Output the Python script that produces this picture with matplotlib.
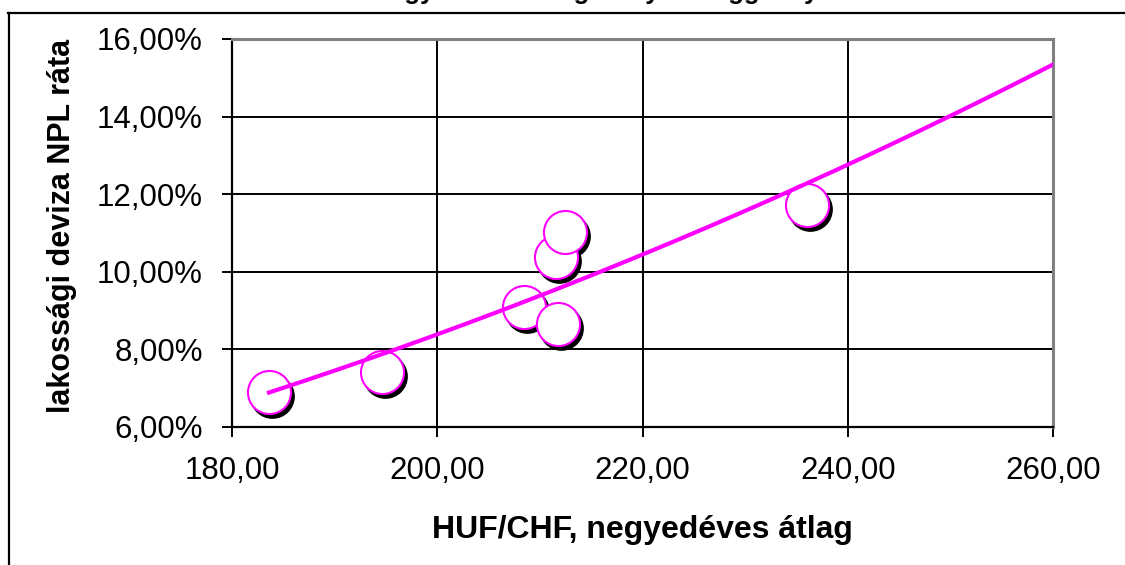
import numpy as np
import matplotlib
matplotlib.use("Agg")
import matplotlib.pyplot as plt
from matplotlib.lines import Line2D
from matplotlib.ticker import FuncFormatter
import matplotlib.transforms as mtransforms

plt.rcParams['font.family'] = ['Liberation Sans', 'DejaVu Sans']

# Data
huf_chf = [183.6, 194.6, 208.5, 211.8, 211.6, 212.4, 236.0]
npl_rate = [6.91, 7.43, 9.09, 8.65, 10.37, 11.03, 11.72]  # percent
x_ticks = [180, 200, 220, 240, 260]
y_ticks = [6, 8, 10, 12, 14, 16]
title_text = "NPL ráta a negyedéves átlagárfolyam függvényében"
x_label = "HUF/CHF, negyedéves átlag"
y_label = "lakossági deviza NPL ráta"

W, H = 1125, 565
fig = plt.figure(figsize=(W / 100, H / 100), dpi=100)
ax = fig.add_axes([232 / W, 1 - 427 / H, (1053 - 232) / W, (427 - 39) / H])

x = np.array(huf_chf)
y = np.array(npl_rate)

# Power trendline (Excel-style), forecast forward to 260
b, lna = np.polyfit(np.log(x), np.log(y), 1)
xt = np.linspace(x.min(), 260, 200)
yt = np.exp(lna) * xt ** b

# Shadows
shadow_tr = mtransforms.offset_copy(ax.transData, fig=fig, x=3, y=-4, units='dots')
ax.plot(x, y, linestyle='none', marker='o', markersize=31, markerfacecolor='black',
        markeredgecolor='black', markeredgewidth=1.2, transform=shadow_tr, zorder=3,
        clip_on=False)
ax.plot(x, y, linestyle='none', marker='o', markersize=31, markerfacecolor='white',
        markeredgecolor='#FF00FF', markeredgewidth=1.5, zorder=4, clip_on=False)
ax.plot(xt, yt, color='#FF00FF', linewidth=3, zorder=5)

ax.set_xlim(180, 260)
ax.set_ylim(6, 16)
ax.set_xticks(x_ticks)
ax.set_yticks(y_ticks)
ax.xaxis.set_major_formatter(FuncFormatter(lambda v, p: f"{v:.2f}".replace('.', ',')))
ax.yaxis.set_major_formatter(FuncFormatter(lambda v, p: f"{v:.2f}%".replace('.', ',')))
ax.tick_params(axis='both', direction='out', length=7.5, width=1.4, color='black',
               labelsize=22.5, pad=13.5)
ax.grid(True, color='black', linewidth=1.4, zorder=1)
ax.set_axisbelow(True)

for s in ['left', 'bottom']:
    ax.spines[s].set_color('black')
    ax.spines[s].set_linewidth(1.6)
for s in ['top', 'right']:
    ax.spines[s].set_color('#808080')
    ax.spines[s].set_linewidth(2.2)

fig.text(642 / W, 1 - 530 / H, x_label, ha='center', va='center',
         fontsize=23, fontweight='bold')
fig.text(62 / W, 1 - 226 / H, y_label, ha='center', va='center', rotation=90,
         fontsize=22, fontweight='bold')

# Clipped title at very top
fig.text(240 / W, 1 + 1 / H, title_text, ha='left', va='baseline',
         fontsize=18.5, fontweight='bold')

# Outer chart frame (partially visible)
fig.add_artist(Line2D([8 / W, 1.01], [1 - 12.5 / H, 1 - 12.5 / H],
                      transform=fig.transFigure, color='black', linewidth=1.6))
fig.add_artist(Line2D([8.5 / W, 8.5 / W], [-0.01, 1 - 12.5 / H],
                      transform=fig.transFigure, color='black', linewidth=1.6))

fig.savefig("out.png", dpi=100)
